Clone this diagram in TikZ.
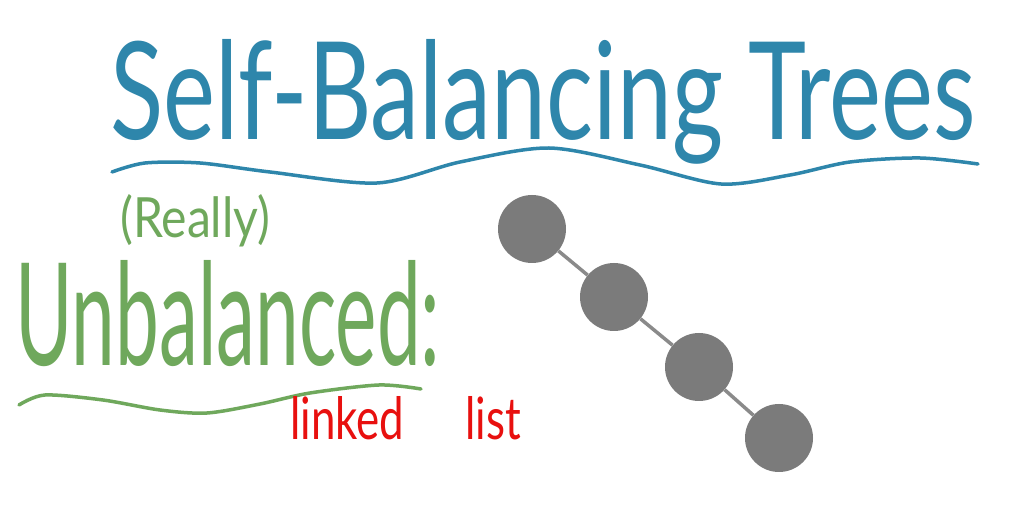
\documentclass[tikz,border=0pt]{standalone}
\usepackage{fontspec}
\setmainfont{Lato}
\usepackage{graphicx}
\usepackage{xcolor}
\usetikzlibrary{positioning}
\definecolor{titleblue}{HTML}{2E86AB}
\definecolor{handgreen}{HTML}{6FA85C}
\definecolor{handred}{HTML}{E8100F}
\definecolor{nodegray}{HTML}{7B7B7B}
\definecolor{linkgray}{HTML}{8A8A8A}

\tikzset{
  listnode/.style={circle, fill=nodegray, minimum size=68pt, inner sep=0pt},
  link/.style={linkgray, line width=3.5pt},
  wave/.style={line width=3.5pt, line cap=round, smooth}
}

\begin{document}
\begin{tikzpicture}[x=1pt, y=-1pt]
    \useasboundingbox[fill=white] (0,0) rectangle (1018,518);

    % Titre
    \node[titleblue, anchor=base west, inner sep=0pt] (title) at (110,140)
        {\resizebox{865pt}{100pt}{Self-Balancing Trees}};
    \draw[wave, titleblue] plot coordinates {(112,172) (145,163) (200,163) (270,172) (377,183)
        (460,162) (549,148) (640,165) (721,184) (790,175) (850,162) (920,158) (978,164)};

    % Cas non equilibre
    \node[handgreen, anchor=base west, inner sep=0pt] (really) at (120,238)
        {\resizebox{150pt}{43pt}{(Really)}};
    \node[handgreen, anchor=base west, inner sep=0pt] (unbal) at (15,366)
        {\resizebox{425pt}{105pt}{Unbalanced:}};
    \draw[wave, handgreen] plot coordinates {(19,405) (45,395) (103,400) (160,410) (207,413)
        (260,404) (310,393) (379,385) (421,389)};
    \node[handred, anchor=base west, inner sep=0pt] (linked) at (290,440)
        {\resizebox{231pt}{43pt}{linked\hspace{1.4em}list}};

    % Liste chainee
    \node[listnode] (n1) at (532,229) {};
    \node[listnode] (n2) at (614,297) {};
    \node[listnode] (n3) at (699,367) {};
    \node[listnode] (n4) at (779,438) {};
    \draw[link] (n1) -- (n2);
    \draw[link] (n2) -- (n3);
    \draw[link] (n3) -- (n4);
\end{tikzpicture}
\end{document}
